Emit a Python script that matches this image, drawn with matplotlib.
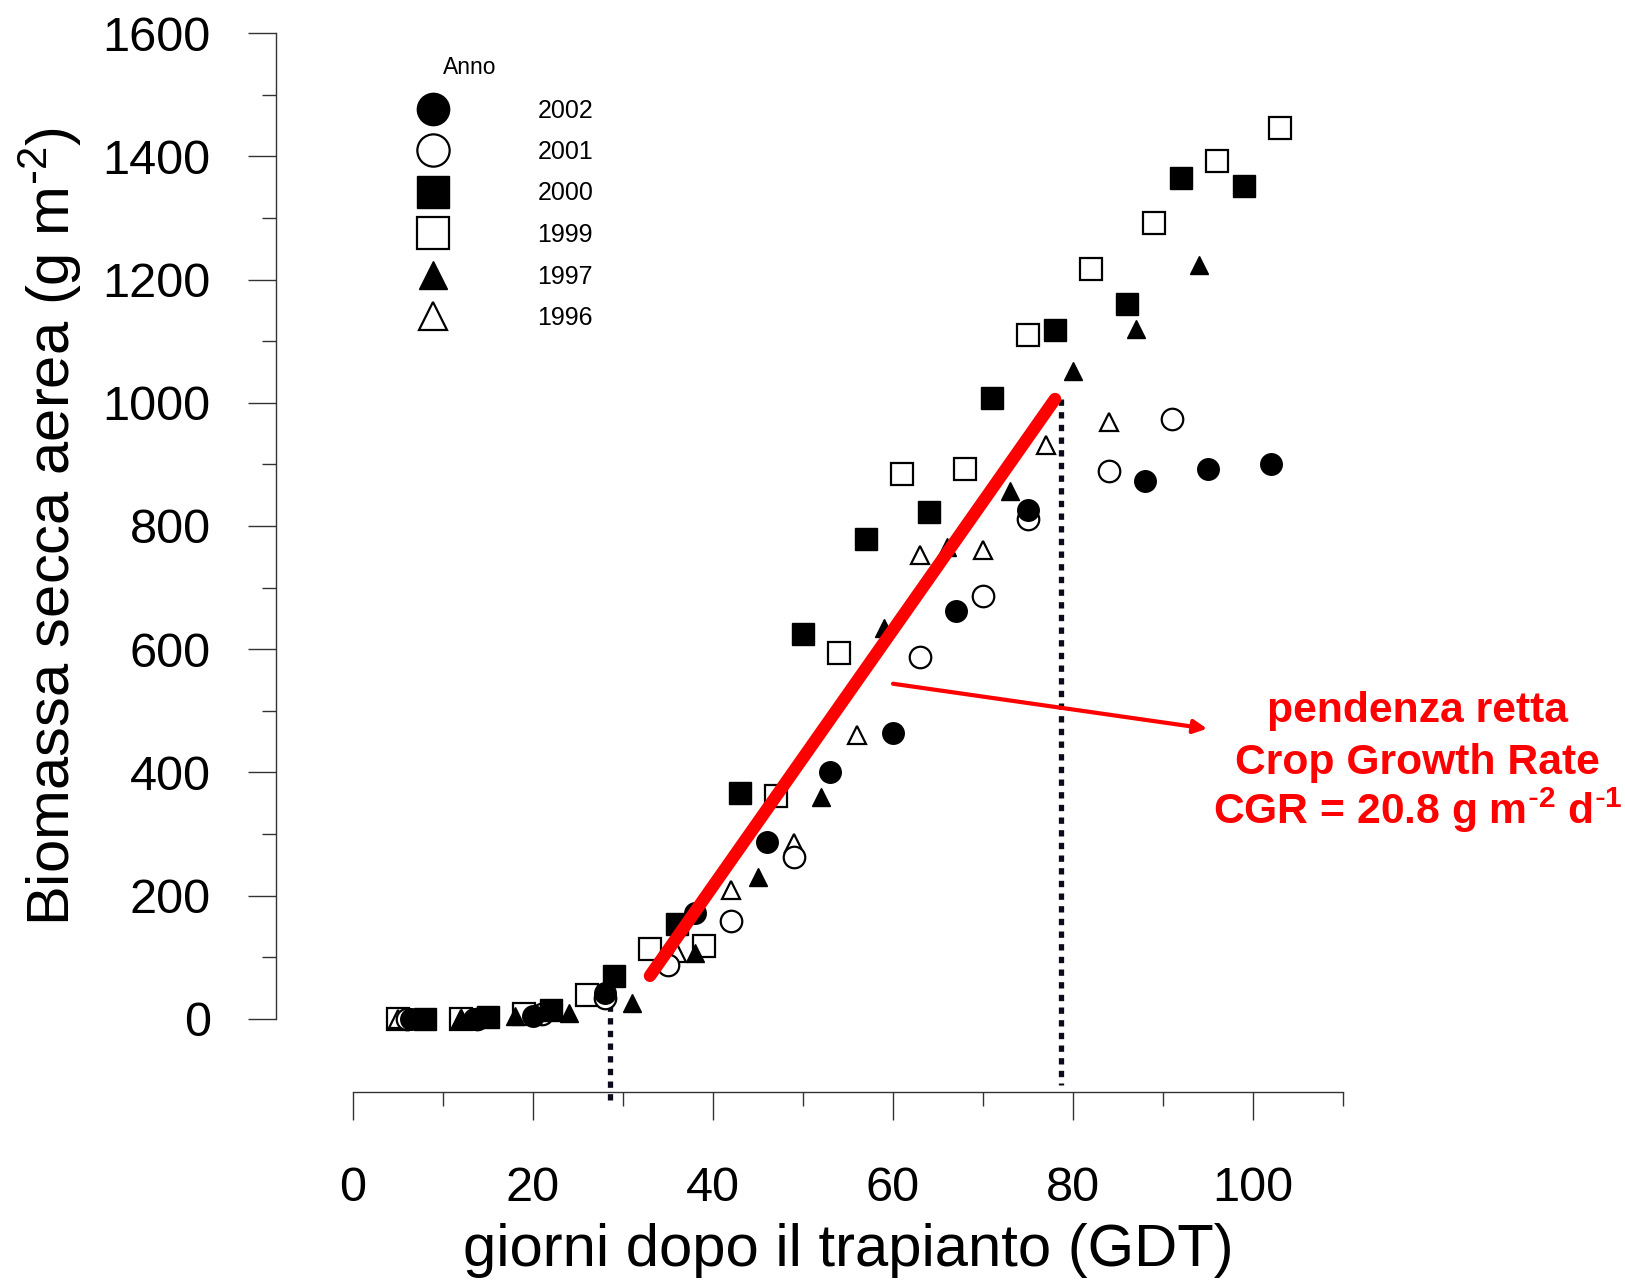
import matplotlib
matplotlib.use("Agg")
import matplotlib.pyplot as plt
from matplotlib.ticker import MultipleLocator, FixedLocator

plt.rcParams['font.family'] = ['Liberation Sans', 'DejaVu Sans']
plt.rcParams['mathtext.default'] = 'regular'

# giorni dopo il trapianto / biomassa (g m-2), per anno
gdt_2002 = [6.5, 13.5, 20, 28, 38, 46, 53, 60, 67, 75, 88, 95, 102]
bio_2002 = [0, 0, 5, 42, 172, 287, 401, 464, 662, 826, 873, 893, 901]

gdt_2001 = [6, 13.8, 21, 28, 35, 42, 49, 63, 70, 75, 84, 91]
bio_2001 = [0, 0, 8, 34, 88, 159, 263, 588, 687, 812, 890, 974]

gdt_2000 = [8, 15, 22, 29, 36, 43, 50, 57, 64, 71, 78, 86, 92, 99]
bio_2000 = [0, 3, 15, 70, 154, 367, 625, 779, 822, 1008, 1118, 1161, 1364, 1351]

gdt_1999 = [5, 12, 19, 26, 33, 39, 47, 54, 61, 68, 75, 82, 89, 96, 103]
bio_1999 = [0, 0, 8, 39, 113, 118, 362, 594, 885, 893, 1110, 1217, 1291, 1392, 1446]

gdt_1997 = [12, 18, 24, 31, 38, 45, 52, 59, 66, 73, 80, 87, 94]
bio_1997 = [2, 5, 10, 26, 107, 231, 360, 635, 766, 856, 1052, 1120, 1224]

gdt_1996 = [5, 12, 36, 42, 49, 56, 63, 70, 77, 84]
bio_1996 = [0, 0, 107, 209, 286, 461, 753, 761, 932, 968]

# retta di regressione (CGR) e limiti della fase lineare
cgr = 20.8
fit_start, fit_end = 33, 78
fit_y0 = 70
lim_low, lim_high = 28.6, 78.7

fig = plt.figure(figsize=(16.25, 12.8), dpi=100)
ax = fig.add_axes([0.1698, 0.1469, 0.6567, 0.8273])

ms = 15.5
# ordine di disegno: marker vuoti sotto, pieni sopra
ax.plot(gdt_1999, bio_1999, ls='none', marker='s', ms=ms, mfc='white', mec='black', mew=1.6, label='1999', zorder=3)
ax.plot(gdt_1996, bio_1996, ls='none', marker='^', ms=13, mfc='white', mec='black', mew=1.6, label='1996', zorder=3)
ax.plot(gdt_2001, bio_2001, ls='none', marker='o', ms=ms, mfc='white', mec='black', mew=1.6, label='2001', zorder=3)
ax.plot(gdt_2000, bio_2000, ls='none', marker='s', ms=ms, mfc='black', mec='black', label='2000', zorder=3)
ax.plot(gdt_1997, bio_1997, ls='none', marker='^', ms=13, mfc='black', mec='black', label='1997', zorder=3)
ax.plot(gdt_2002, bio_2002, ls='none', marker='o', ms=ms, mfc='black', mec='black', label='2002', zorder=3)

# linee tratteggiate verticali
ax.plot([lim_low, lim_low], [23, -138], color='#0a0a1a', lw=3.8, ls=(0, (1.2, 1.2)), clip_on=False, zorder=2)
ax.plot([lim_high, lim_high], [1006, -107], color='#0a0a1a', lw=3.8, ls=(0, (1.2, 1.2)), clip_on=False, zorder=2)

# retta rossa
ax.plot([fit_start, fit_end], [fit_y0, fit_y0 + cgr * (fit_end - fit_start)],
        color='red', lw=9, solid_capstyle='round', zorder=5)

# freccia
ax.annotate('', xy=(94.9, 471), xytext=(60, 544),
            arrowprops=dict(arrowstyle='-|>', color='red', lw=3, mutation_scale=20, shrinkA=0, shrinkB=0),
            annotation_clip=False, zorder=5)

tx = 118.3
ax.text(tx, 499, 'pendenza retta', color='red', fontsize=30.7, fontweight='bold',
        ha='center', va='center', clip_on=False)
ax.text(tx, 416, 'Crop Growth Rate', color='red', fontsize=30.7, fontweight='bold',
        ha='center', va='center', clip_on=False)
ax.text(tx, 338, r'CGR = 20.8 g m$^{\text{-}2}$ d$^{\text{-}1}$', color='red', fontsize=30.7,
        fontweight='bold', ha='center', va='center', clip_on=False)

ax.set_xlim(-8.56, 110)
ax.set_ylim(-118.5, 1600)

for s in ['top', 'right']:
    ax.spines[s].set_visible(False)
ax.spines['left'].set_bounds(0, 1600)
ax.spines['bottom'].set_bounds(0, 110)
for s in ['left', 'bottom']:
    ax.spines[s].set_color('#333333')
    ax.spines[s].set_linewidth(1.0)

ax.xaxis.set_major_locator(FixedLocator([0, 20, 40, 60, 80, 100]))
ax.xaxis.set_minor_locator(FixedLocator([10, 30, 50, 70, 90, 110]))
ax.yaxis.set_major_locator(MultipleLocator(200))
ax.yaxis.set_minor_locator(FixedLocator([100, 300, 500, 700, 900, 1100, 1300, 1500]))
ax.set_ylim(-118.5, 1600)
ax.tick_params(which='major', length=20, width=1, color='#333333', direction='out', labelsize=35)
ax.tick_params(which='minor', length=10, width=1, color='#333333', direction='out')
ax.tick_params(axis='y', which='major', pad=27)
ax.tick_params(axis='x', which='major', pad=33)

ax.set_xlabel('giorni dopo il trapianto (GDT)', fontsize=43)
ax.set_ylabel(r'Biomassa secca aerea (g m$^{\text{-}2}$)', fontsize=43)
ax.xaxis.set_label_coords(0.536, -0.124)
ax.yaxis.set_label_coords(-0.180, 0.5345)

# legenda
handles, labels = ax.get_legend_handles_labels()
order = ['2002', '2001', '2000', '1999', '1997', '1996']
hmap = dict(zip(labels, handles))
leg = ax.legend([hmap[k] for k in order], order, loc='upper left',
                bbox_to_anchor=(385 / 1625, 1 - 76 / 1280), bbox_transform=fig.transFigure,
                frameon=False, fontsize=18, markerscale=1.5, handlelength=2,
                handletextpad=3.2, labelspacing=0.7, borderpad=0.4)
fig.text(470 / 1625, 1 - 68 / 1280, 'Anno', fontsize=16.5, ha='center', va='center')

fig.savefig('out.png', dpi=100)
